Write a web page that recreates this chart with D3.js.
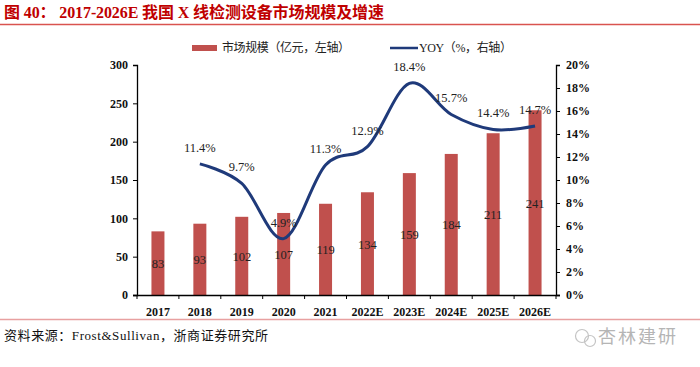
<!DOCTYPE html>
<html><head><meta charset="utf-8">
<script src="https://cdn.jsdelivr.net/npm/d3@7"></script>
<style>body{margin:0;background:#fff}svg{display:block}</style>
</head><body>
<svg id="c" width="700" height="367"></svg>
<script>
const categories = ["2017","2018","2019","2020","2021","2022E","2023E","2024E","2025E","2026E"];
const marketSize = [83,93,102,107,119,134,159,184,211,241];
const yoy = [null,11.4,9.7,4.9,11.3,12.9,18.4,15.7,14.4,14.7];
const leftTicks = [0,50,100,150,200,250,300];
const rightTicks = [0,2,4,6,8,10,12,14,16,18,20];

const svg = d3.select("#c");
const serif = "'Liberation Serif','Times New Roman','Noto Sans CJK SC',serif";
const cjk = "'Liberation Serif','Noto Sans CJK SC',serif";
const L = 137, R = 556, T = 65, B = 295;

// title
svg.append("text").attr("x",4).attr("y",18).attr("fill","#c00000")
  .attr("font-family",cjk).attr("font-size",16).attr("font-weight","600")
  .attr("textLength",380).attr("lengthAdjust","spacing")
  .text("图 40： 2017-2026E 我国 X 线检测设备市场规模及增速");
svg.append("line").attr("x1",0).attr("x2",700).attr("y1",24.5).attr("y2",24.5)
  .attr("stroke","#d9534f").attr("stroke-width",1.5);
svg.append("line").attr("x1",0).attr("x2",700).attr("y1",319.5).attr("y2",319.5)
  .attr("stroke","#e8a0a0").attr("stroke-width",1.5);

const x = d3.scaleBand().domain(categories).range([L,R]);
const yL = d3.scaleLinear().domain([0,300]).range([B,T]);
const yR = d3.scaleLinear().domain([0,20]).range([B,T]);

// bars
svg.append("g").selectAll("rect").data(marketSize).join("rect")
  .attr("x",(d,i)=>x(categories[i])+x.bandwidth()/2-6.5)
  .attr("width",13)
  .attr("y",d=>yL(d)).attr("height",d=>B-yL(d))
  .attr("fill","#c0504d");
svg.append("g").selectAll("text").data(marketSize).join("text")
  .attr("x",(d,i)=>x(categories[i])+x.bandwidth()/2)
  .attr("y",d=>(yL(d)+B)/2+5)
  .attr("text-anchor","middle").attr("font-family",serif).attr("font-size",12.5).attr("fill","#222")
  .text(d=>d);

// axes
const axL = svg.append("g").attr("transform",`translate(${L},0)`)
  .call(d3.axisLeft(yL).tickValues(leftTicks).tickSize(4).tickPadding(5));
const axR = svg.append("g").attr("transform",`translate(${R},0)`)
  .call(d3.axisRight(yR).tickValues(rightTicks).tickSize(4).tickPadding(6).tickFormat(d=>d+"%"));
const axB = svg.append("g").attr("transform",`translate(0,${B})`)
  .call(d3.axisBottom(x).tickSize(0).tickPadding(12));
axB.select(".domain").attr("d",`M${L-4},0.5H${R+4}`);
svg.append("g").selectAll("line").data(d3.range(categories.length+1)).join("line")
  .attr("x1",i=>L+i*x.step()).attr("x2",i=>L+i*x.step())
  .attr("y1",B).attr("y2",B+4).attr("stroke","#000");
[axL,axR,axB].forEach(a=>{
  a.selectAll("text").attr("font-family",serif).attr("font-size",12).attr("font-weight","bold").attr("fill","#111");
  a.select(".domain").attr("stroke","#000").attr("stroke-width",1.3);
  a.selectAll(".tick line").attr("stroke","#000");
});

// line
const pts = yoy.map((v,i)=>({v,c:categories[i]})).filter(d=>d.v!==null);
const line = d3.line().x(d=>x(d.c)+x.bandwidth()/2).y(d=>yR(d.v)).curve(d3.curveCardinal.tension(0));
svg.append("path").datum(pts).attr("d",line).attr("fill","none")
  .attr("stroke","#1f3a7a").attr("stroke-width",3);
svg.append("g").selectAll("text").data(pts).join("text")
  .attr("x",d=>x(d.c)+x.bandwidth()/2)
  .attr("y",d=>yR(d.v)-12)
  .attr("text-anchor","middle").attr("font-family",serif).attr("font-size",12.5).attr("fill","#222")
  .text(d=>d.v.toFixed(1)+"%");

// legend
const lg = svg.append("g").attr("font-family",cjk).attr("font-size",12).attr("fill","#222");
lg.append("rect").attr("x",192).attr("y",45).attr("width",25).attr("height",6).attr("fill","#c0504d");
lg.append("text").attr("x",222).attr("y",52).attr("textLength",128).attr("lengthAdjust","spacing").text("市场规模（亿元，左轴）");
lg.append("line").attr("x1",390).attr("x2",418).attr("y1",48).attr("y2",48).attr("stroke","#1f3a7a").attr("stroke-width",2.5);
lg.append("text").attr("x",419).attr("y",52).attr("textLength",93).attr("lengthAdjust","spacing").text("YOY（%，右轴）");

// footer
svg.append("text").attr("x",4).attr("y",340).attr("font-family",cjk).attr("font-size",13).attr("fill","#111")
  .attr("textLength",264).attr("lengthAdjust","spacing")
  .text("资料来源：Frost&Sullivan，浙商证券研究所");
const wm = svg.append("g").attr("fill","none").attr("stroke","#c4c4c4").attr("stroke-width",1.2);
wm.append("circle").attr("cx",582).attr("cy",336).attr("r",6.5);
wm.append("circle").attr("cx",590).attr("cy",341).attr("r",5.5);
svg.append("text").attr("x",598).attr("y",343).attr("font-family","'Noto Sans CJK SC',sans-serif")
  .attr("font-size",18).attr("fill","#b5b5b5").attr("textLength",78).attr("lengthAdjust","spacing").text("杏林建研");
</script>
</body></html>
